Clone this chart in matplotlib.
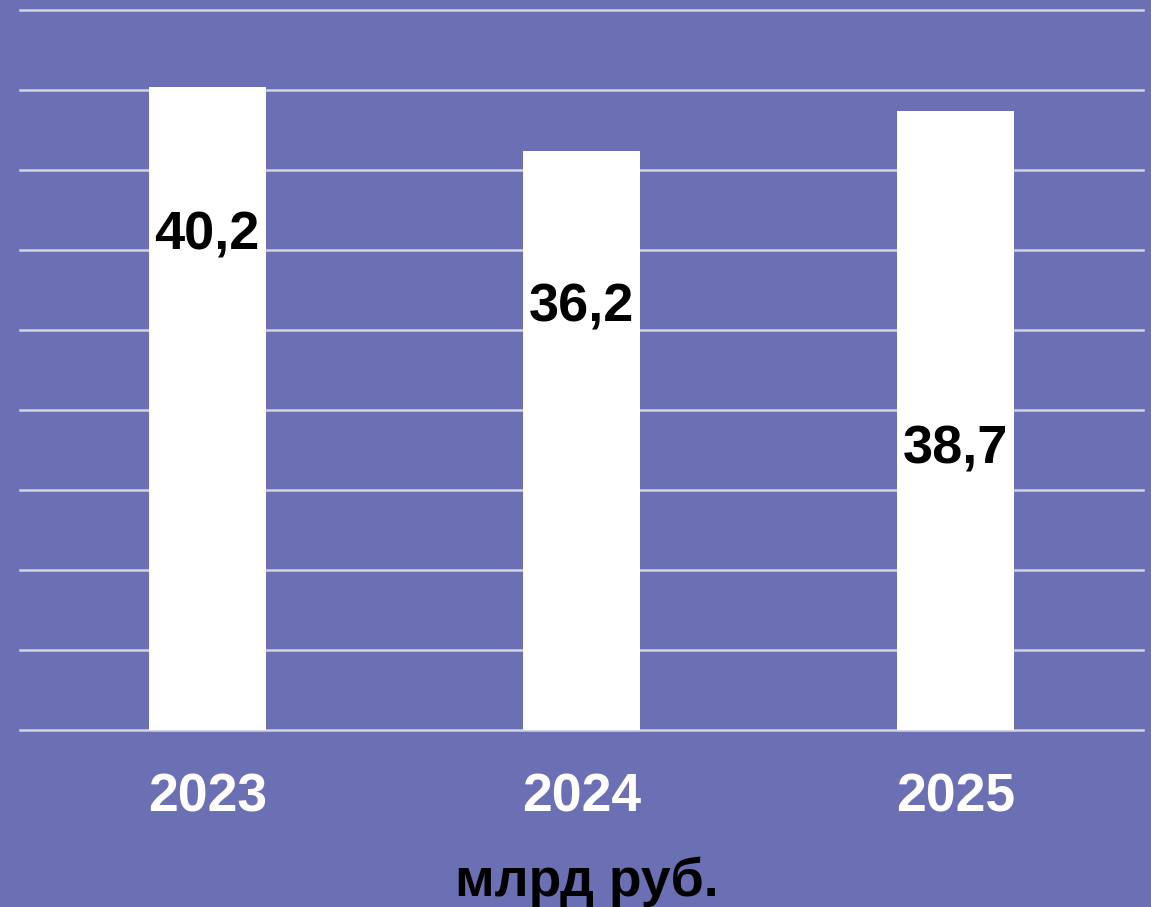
import matplotlib.pyplot as plt
import numpy as np

# data
years = ['2023', '2024', '2025']
values = [40.2, 36.2, 38.7]
value_labels = ['40,2', '36,2', '38,7']
# where the numbers sit inside the bars (data units)
label_pos = [30.9, 26.4, 17.5]

bg = '#6b70b4'
plt.rcParams['font.family'] = ['Liberation Sans', 'DejaVu Sans']

fig = plt.figure(figsize=(11.51, 9.07), dpi=100)
fig.patch.set_facecolor(bg)
ax = fig.add_axes([20/1151, (907-730)/907, 1123/1151, 720/907])
ax.set_facecolor(bg)

x = np.arange(len(years))
ax.bar(x, values, width=0.313, color='white', zorder=3)
for xi, lab, yp in zip(x, value_labels, label_pos):
    ax.text(xi, yp, lab, ha='center', va='center', fontsize=39,
            fontweight='bold', color='black', zorder=4)

ax.set_xlim(-0.5, 2.5)
ax.set_ylim(0, 45)
ax.set_yticks(np.arange(0, 46, 5))
ax.yaxis.grid(True, color='#d4d4e0', linewidth=1.8, zorder=1)
for gl in ax.get_ygridlines():
    gl.set_clip_on(False)
ax.tick_params(left=False, labelleft=False, bottom=False)
ax.set_xticks(x)
ax.set_xticklabels(years, fontsize=38.5, fontweight='bold', color='white')
ax.tick_params(axis='x', pad=27)
for s in ax.spines.values():
    s.set_visible(False)

fig.text(587/1151, 1 - 882/907, 'млрд руб.', ha='center', va='center',
         fontsize=38.5, fontweight='bold', color='black')

fig.savefig('out.png', dpi=100, facecolor=bg)
